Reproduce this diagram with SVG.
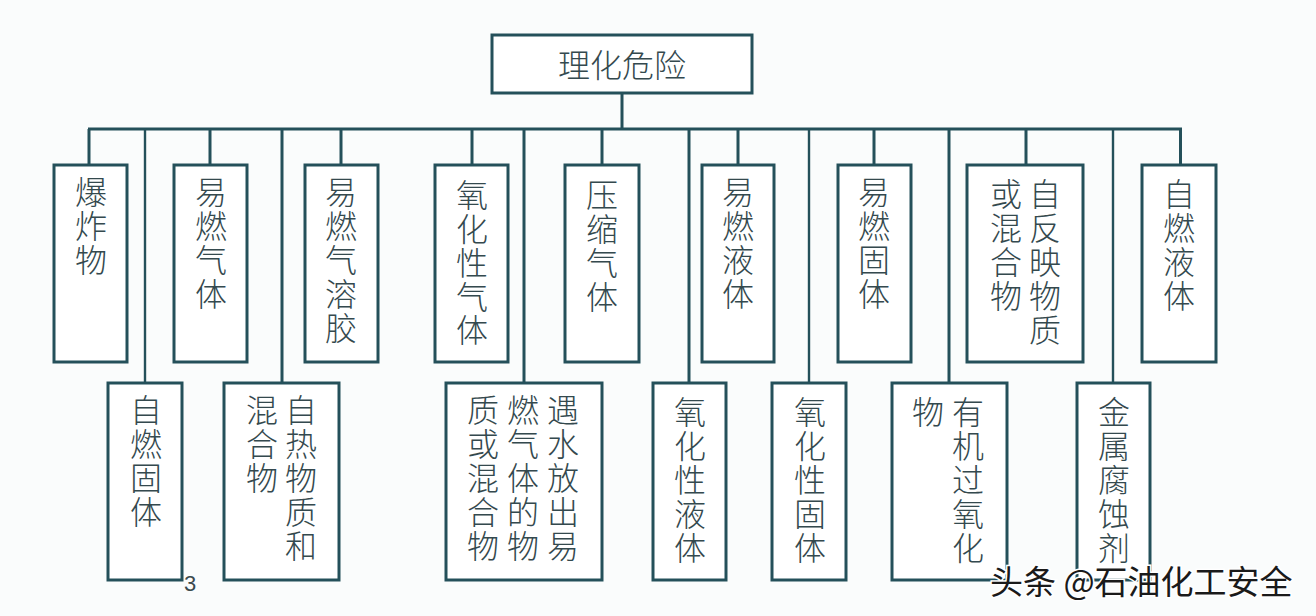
<svg xmlns="http://www.w3.org/2000/svg" width="1316" height="616" viewBox="0 0 1316 616">
<style>
.box{fill:#ffffff;stroke:#24505a;stroke-width:3}
.ln{fill:none;stroke:#24505a;stroke-width:3}
.ln2{fill:none;stroke:#24505a;stroke-width:2.4}
.t{font-family:"Noto Sans CJK SC","Noto Sans CJK TC",sans-serif;font-size:32px;fill:#34494e;text-anchor:middle;dominant-baseline:central;font-weight:300}
.wm{font-family:"Noto Sans CJK SC",sans-serif;font-size:33px;fill:#1a1a1a;stroke:#ffffff;stroke-width:3;paint-order:stroke;text-anchor:start}
</style>
<rect width="1316" height="616" fill="#fafcfc"/>
<g id="connectors">
<line class="ln" x1="622" y1="93" x2="622" y2="130"/>
<line class="ln" x1="88" y1="129" x2="1182" y2="129"/>
<line class="ln" x1="89" y1="129" x2="89" y2="165"/>
<line class="ln" x1="210" y1="129" x2="210" y2="165"/>
<line class="ln" x1="341" y1="129" x2="341" y2="165"/>
<line class="ln" x1="472" y1="129" x2="472" y2="165"/>
<line class="ln" x1="602" y1="129" x2="602" y2="165"/>
<line class="ln" x1="738" y1="129" x2="738" y2="165"/>
<line class="ln" x1="874" y1="129" x2="874" y2="165"/>
<line class="ln" x1="1026" y1="129" x2="1026" y2="165"/>
<line class="ln" x1="1180.5" y1="129" x2="1180.5" y2="165"/>
<line class="ln2" x1="145" y1="129" x2="145" y2="383"/>
<line class="ln" x1="282" y1="129" x2="282" y2="383"/>
<line class="ln" x1="524" y1="129" x2="524" y2="383"/>
<line class="ln" x1="689" y1="129" x2="689" y2="383"/>
<line class="ln2" x1="809" y1="129" x2="809" y2="383"/>
<line class="ln" x1="949" y1="129" x2="949" y2="383"/>
<line class="ln2" x1="1113" y1="129" x2="1113" y2="383"/>
</g>
<g id="root">
<rect class="box" x="492" y="35" width="260" height="58"/>
<text class="t" x="622" y="63">理化危险</text>
</g>
<g id="n-baozhawu">
<rect class="box" x="54" y="165" width="73" height="197"/>
<text class="t" x="91"><tspan x="91" y="190">爆</tspan><tspan x="91" y="224">炸</tspan><tspan x="91" y="258">物</tspan></text>
</g>
<g id="n-yiranqiti">
<rect class="box" x="174" y="165" width="73" height="197"/>
<text class="t"><tspan x="211" y="190">易</tspan><tspan x="211" y="224">燃</tspan><tspan x="211" y="258">气</tspan><tspan x="211" y="292">体</tspan></text>
</g>
<g id="n-qirongjiao">
<rect class="box" x="305" y="165" width="73" height="197"/>
<text class="t"><tspan x="341" y="190">易</tspan><tspan x="341" y="224">燃</tspan><tspan x="341" y="258">气</tspan><tspan x="341" y="292">溶</tspan><tspan x="341" y="326">胶</tspan></text>
</g>
<g id="n-yanghuaqiti">
<rect class="box" x="435" y="165" width="73" height="197"/>
<text class="t"><tspan x="472" y="193">氧</tspan><tspan x="472" y="227">化</tspan><tspan x="472" y="261">性</tspan><tspan x="472" y="295">气</tspan><tspan x="472" y="328">体</tspan></text>
</g>
<g id="n-yasuoqiti">
<rect class="box" x="565" y="165" width="74" height="197"/>
<text class="t"><tspan x="602" y="193">压</tspan><tspan x="602" y="227">缩</tspan><tspan x="602" y="261">气</tspan><tspan x="602" y="295">体</tspan></text>
</g>
<g id="n-yiranyeti">
<rect class="box" x="702" y="165" width="72" height="197"/>
<text class="t"><tspan x="738" y="190">易</tspan><tspan x="738" y="224">燃</tspan><tspan x="738" y="258">液</tspan><tspan x="738" y="292">体</tspan></text>
</g>
<g id="n-yiranguti">
<rect class="box" x="838" y="165" width="73" height="197"/>
<text class="t"><tspan x="874" y="190">易</tspan><tspan x="874" y="224">燃</tspan><tspan x="874" y="258">固</tspan><tspan x="874" y="292">体</tspan></text>
</g>
<g id="n-zifanying">
<rect class="box" x="967" y="165" width="116" height="197"/>
<text class="t"><tspan x="1045" y="192">自</tspan><tspan x="1045" y="226">反</tspan><tspan x="1045" y="260">映</tspan><tspan x="1045" y="294">物</tspan><tspan x="1045" y="328">质</tspan></text>
<text class="t"><tspan x="1006" y="192">或</tspan><tspan x="1006" y="226">混</tspan><tspan x="1006" y="260">合</tspan><tspan x="1006" y="294">物</tspan></text>
</g>
<g id="n-ziranyeti">
<rect class="box" x="1142" y="165" width="74" height="197"/>
<text class="t"><tspan x="1179" y="192">自</tspan><tspan x="1179" y="226">燃</tspan><tspan x="1179" y="260">液</tspan><tspan x="1179" y="294">体</tspan></text>
</g>
<g id="n-ziranguti">
<rect class="box" x="108" y="383" width="74" height="197"/>
<text class="t"><tspan x="146" y="408">自</tspan><tspan x="146" y="442">燃</tspan><tspan x="146" y="476">固</tspan><tspan x="146" y="510">体</tspan></text>
</g>
<g id="n-zire">
<rect class="box" x="224" y="383" width="115" height="197"/>
<text class="t"><tspan x="301" y="408">自</tspan><tspan x="301" y="442">热</tspan><tspan x="301" y="476">物</tspan><tspan x="301" y="510">质</tspan><tspan x="301" y="544">和</tspan></text>
<text class="t"><tspan x="262" y="408">混</tspan><tspan x="262" y="442">合</tspan><tspan x="262" y="476">物</tspan></text>
</g>
<g id="n-yushui">
<rect class="box" x="446" y="383" width="156" height="197"/>
<text class="t"><tspan x="563" y="408">遇</tspan><tspan x="563" y="442">水</tspan><tspan x="563" y="476">放</tspan><tspan x="563" y="510">出</tspan><tspan x="563" y="544">易</tspan></text>
<text class="t"><tspan x="523" y="408">燃</tspan><tspan x="523" y="442">气</tspan><tspan x="523" y="476">体</tspan><tspan x="523" y="510">的</tspan><tspan x="523" y="544">物</tspan></text>
<text class="t"><tspan x="483" y="408">质</tspan><tspan x="483" y="442">或</tspan><tspan x="483" y="476">混</tspan><tspan x="483" y="510">合</tspan><tspan x="483" y="544">物</tspan></text>
</g>
<g id="n-yanghuayeti">
<rect class="box" x="653" y="383" width="73" height="197"/>
<text class="t"><tspan x="690" y="410">氧</tspan><tspan x="690" y="444">化</tspan><tspan x="690" y="478">性</tspan><tspan x="690" y="512">液</tspan><tspan x="690" y="546">体</tspan></text>
</g>
<g id="n-yanghuaguti">
<rect class="box" x="772" y="383" width="74" height="197"/>
<text class="t"><tspan x="810" y="410">氧</tspan><tspan x="810" y="444">化</tspan><tspan x="810" y="478">性</tspan><tspan x="810" y="512">固</tspan><tspan x="810" y="546">体</tspan></text>
</g>
<g id="n-youji">
<rect class="box" x="892" y="383" width="115" height="197"/>
<text class="t"><tspan x="968" y="410">有</tspan><tspan x="968" y="444">机</tspan><tspan x="968" y="478">过</tspan><tspan x="968" y="512">氧</tspan><tspan x="968" y="546">化</tspan></text>
<text class="t"><tspan x="928" y="410">物</tspan></text>
</g>
<g id="n-jinshu">
<rect class="box" x="1077" y="383" width="73" height="197"/>
<text class="t"><tspan x="1114" y="410">金</tspan><tspan x="1114" y="444">属</tspan><tspan x="1114" y="478">腐</tspan><tspan x="1114" y="512">蚀</tspan><tspan x="1114" y="546">剂</tspan></text>
</g>
<text x="184" y="591" font-family="Liberation Sans, sans-serif" font-size="22" fill="#3a4a4e">3</text>
<text class="wm" x="990" y="594">头条 @石油化工安全</text>
</svg>
